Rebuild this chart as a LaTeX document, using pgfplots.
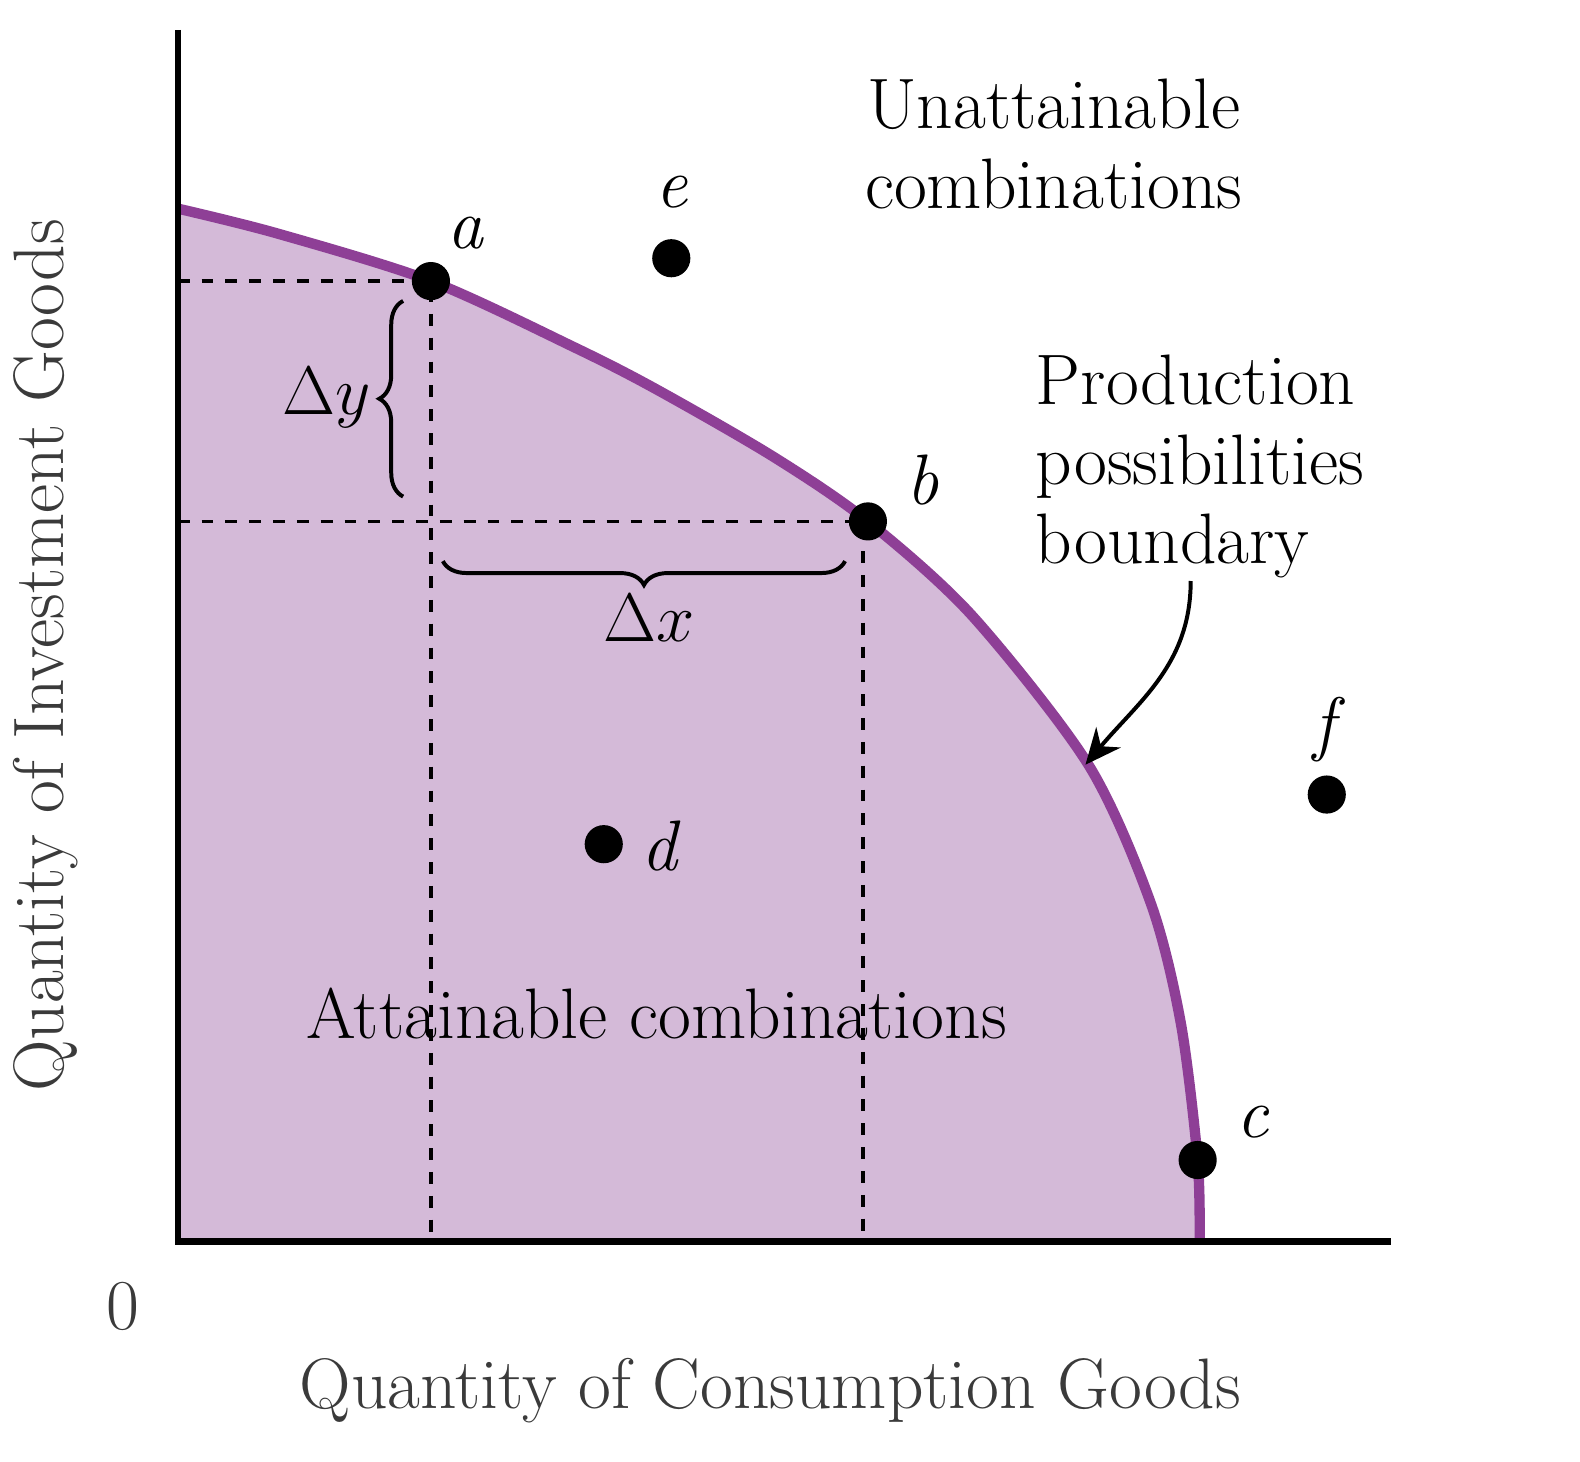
\documentclass[border=0pt]{standalone}
\usepackage{pgfplots}
\pgfplotsset{compat=1.18}
\usetikzlibrary{decorations.pathreplacing,arrows.meta}
\definecolor{ppf}{HTML}{8E3F96}
\definecolor{ppffill}{HTML}{D4BAD8}
\definecolor{lab}{HTML}{3A3A3A}
\begin{document}
\begin{tikzpicture}
\begin{axis}[scale only axis, width=305.5pt, height=305pt,
 xmin=0, xmax=1222, ymin=0, ymax=1220, axis lines=none, clip=false, ticks=none]
\path (axis cs:-168,-222) rectangle (axis cs:1412,1250);
\addplot[fill=ppffill, draw=none, smooth] coordinates {(0,1040)(100,1015)(255,967)(400,900)(482,858)(600,790)(695,725)(800,630)(917,480)(980,340)(1010,220)(1027,82)(1029,0)} |- (axis cs:0,0) -- cycle;
\addplot[black, dashed, line width=0.9pt] coordinates {(0,967)(255,967)(255,0)};
\addplot[black, dashed, line width=0.9pt] coordinates {(0,725)(690,725)(690,0)};
\addplot[ppf, line width=2.6pt, smooth] coordinates {(0,1040)(100,1015)(255,967)(400,900)(482,858)(600,790)(695,725)(800,630)(917,480)(980,340)(1010,220)(1027,82)(1029,0)};
\draw[black, line width=1.6pt] (axis cs:0,1220) -- (axis cs:0,0) -- (axis cs:1222,0);
\addplot[only marks, mark=*, mark size=4.6pt, black] coordinates {(255,967)(497,990)(695,725)(429,400)(1157,450)(1027,82)};
\draw[decorate, decoration={brace, amplitude=6pt}, line width=1pt] (axis cs:227,750) -- (axis cs:227,947);
\draw[decorate, decoration={brace, amplitude=6pt, mirror}, line width=1pt] (axis cs:267,685) -- (axis cs:672,685);
\draw[-{Stealth[length=9pt,width=8pt]}, line width=1pt] (axis cs:1020,665) to[out=-90,in=50] (axis cs:914,480);
\begin{scope}[every node/.style={font=\fontsize{18}{20}\selectfont}]
\node at (axis cs:150,850) {$\Delta y$};
\node at (axis cs:475,628) {$\Delta x$};
\node at (axis cs:290,1015) {\itshape a};
\node at (axis cs:497,1057) {\itshape e};
\node at (axis cs:750,767) {\itshape b};
\node at (axis cs:1082,120) {\itshape c};
\node at (axis cs:485,398) {\itshape d};
\node at (axis cs:1154,515) {\itshape f};
\node[align=center] at (axis cs:882,1105) {Unattainable\\combinations};
\node[align=left, anchor=west] at (axis cs:850,780) {Production\\possibilities\\boundary};
\node at (axis cs:482,230) {Attainable combinations};
\node[lab] at (axis cs:-55,-65) {0};
\node[lab] at (axis cs:597,-150) {Quantity of Consumption Goods};
\node[lab, rotate=90] at (axis cs:-133,590) {Quantity of Investment Goods};
\end{scope}
\end{axis}
\end{tikzpicture}
\end{document}
